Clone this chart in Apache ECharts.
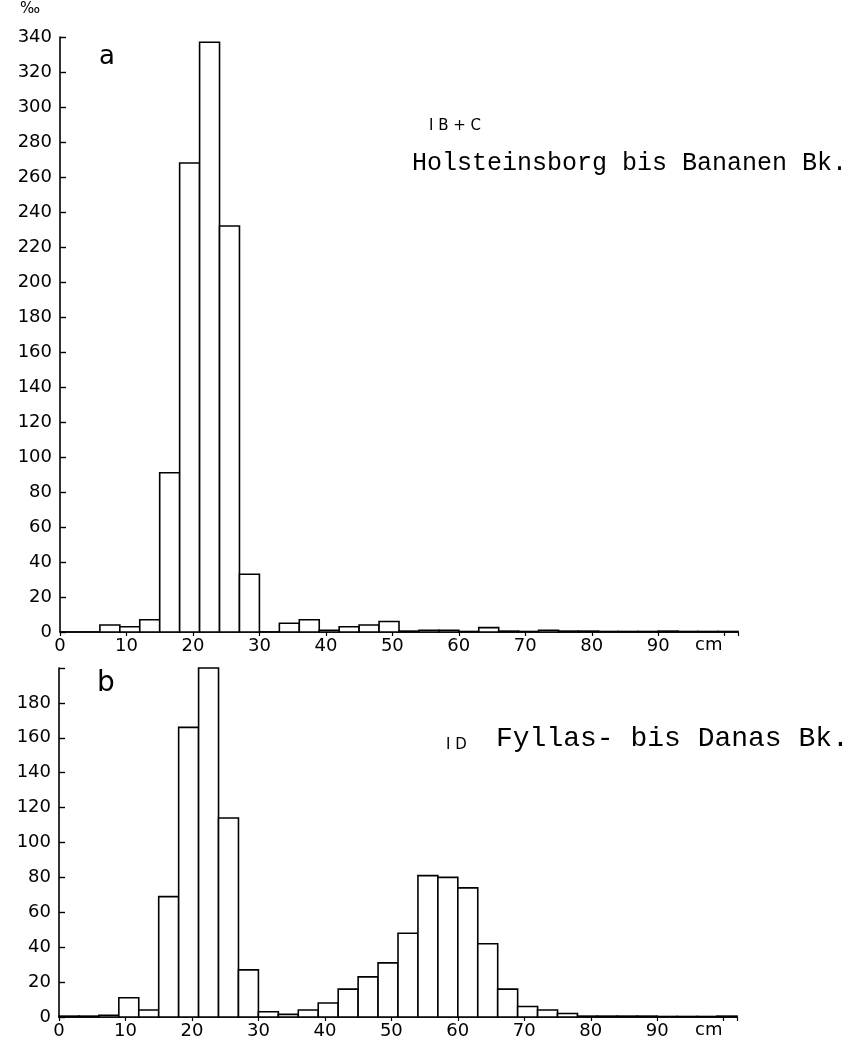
<!DOCTYPE html>
<html>
<head>
<meta charset="utf-8">
<script src="https://cdn.jsdelivr.net/npm/echarts@6/dist/echarts.min.js"></script>
<style>
html,body{margin:0;padding:0;background:#fff;}
#c{width:861px;height:1047px;}
</style>
</head>
<body>
<div id="c"></div>
<script>
// length classes (cm), 3 cm bins: start of each bin
const binStarts = [0,3,6,9,12,15,18,21,24,27,30,33,36,39,42,45,48,51,54,57,60,63,66,69,72,75,78,81,84,87,90,93,96,99];
const binWidth = 3;
// Panel a: I B + C, Holsteinsborg bis Bananen Bk. (per mille)
const valuesA = [0,0,4,3,7,91,268,337,232,33,0,5,7,1,3,4,6,0.5,1,1,0.3,2.5,0.5,0.3,1,0.5,0.5,0.3,0.3,0.3,0.5,0.3,0.3,0.3];
// Panel b: I D, Fyllas- bis Danas Bk. (per mille)
const valuesB = [0.5,0.5,1,11,4,69,166,200,114,27,3,1.5,4,8,16,23,31,48,81,80,74,42,16,6,4,2,0.5,0.5,0.5,0.5,0.3,0.3,0.3,0.5];
const xTickLabels = ['0','10','20','30','40','50','60','70','80','90'];
const yMaxA = 340, yMaxB = 200, yStep = 20, xMax = 102, xStep = 10;

function toData(vals){ return binStarts.map((s,i)=>[s, s+binWidth, vals[i]]); }

const labelFont = {fontFamily:'DejaVu Sans', fontSize:18, color:'#000'};

function xAxis(gi){
  return {
    type:'value', gridIndex:gi, min:0, max:xMax, interval:xStep,
    axisLine:{show:true, lineStyle:{color:'#000', width:1.6}},
    axisTick:{show:true, length:4, lineStyle:{color:'#000', width:1.2}},
    splitLine:{show:false},
    axisLabel:Object.assign({margin:5, formatter:v=>{const s=String(v);return xTickLabels.indexOf(s)>=0?s:'';}}, labelFont)
  };
}
function yAxis(gi, max, labelMax){
  return {
    type:'value', gridIndex:gi, min:0, max:max, interval:yStep,
    axisLine:{show:true, lineStyle:{color:'#000', width:1.6}},
    axisTick:{show:true, inside:true, length:6, lineStyle:{color:'#000', width:1.4}},
    splitLine:{show:false},
    axisLabel:Object.assign({margin:8, formatter:v=>v<=labelMax?String(v):''}, labelFont)
  };
}
function renderItem(params, api){
  const p0 = api.coord([api.value(0), api.value(2)]);
  const p1 = api.coord([api.value(1), 0]);
  return {type:'rect', shape:{x:p0[0], y:p0[1], width:p1[0]-p0[0], height:p1[1]-p0[1]},
    style:{fill:'#fff', stroke:'#000', lineWidth:1.6}};
}

const chart = echarts.init(document.getElementById('c'), null, {renderer:'canvas'});
chart.setOption({
  backgroundColor:'#fff',
  animation:false,
  grid:[
    {left:60, top:37, width:678, height:595},
    {left:59, top:668, width:678, height:349}
  ],
  xAxis:[xAxis(0), xAxis(1)],
  yAxis:[yAxis(0, yMaxA, 340), yAxis(1, yMaxB, 180)],
  series:[
    {type:'custom', xAxisIndex:0, yAxisIndex:0, renderItem:renderItem, encode:{x:[0,1], y:2}, data:toData(valuesA)},
    {type:'custom', xAxisIndex:1, yAxisIndex:1, renderItem:renderItem, encode:{x:[0,1], y:2}, data:toData(valuesB)}
  ],
  graphic:[
    {type:'text', left:20, top:2, style:{text:'‰', font:'15px DejaVu Sans', fill:'#000'}},
    {type:'text', left:99, top:44, style:{text:'a', font:'26px DejaVu Sans', fill:'#000'}},
    {type:'text', left:97, top:670, style:{text:'b', font:'28px DejaVu Sans', fill:'#000'}},
    {type:'text', left:429, top:119, style:{text:'I B + C', font:'15px DejaVu Sans', fill:'#000'}},
    {type:'text', left:412, top:151, style:{text:'Holsteinsborg bis Bananen Bk.', font:'25px Liberation Mono', fill:'#000'}},
    {type:'text', left:446, top:738, style:{text:'I D', font:'15px DejaVu Sans', fill:'#000'}},
    {type:'text', left:496, top:725, style:{text:'Fyllas- bis Danas Bk.', font:'28px Liberation Mono', fill:'#000'}},
    {type:'text', left:695, top:636, style:{text:'cm', font:'18px DejaVu Sans', fill:'#000'}},
    {type:'text', left:695, top:1021, style:{text:'cm', font:'18px DejaVu Sans', fill:'#000'}}
  ]
});
</script>
</body>
</html>
